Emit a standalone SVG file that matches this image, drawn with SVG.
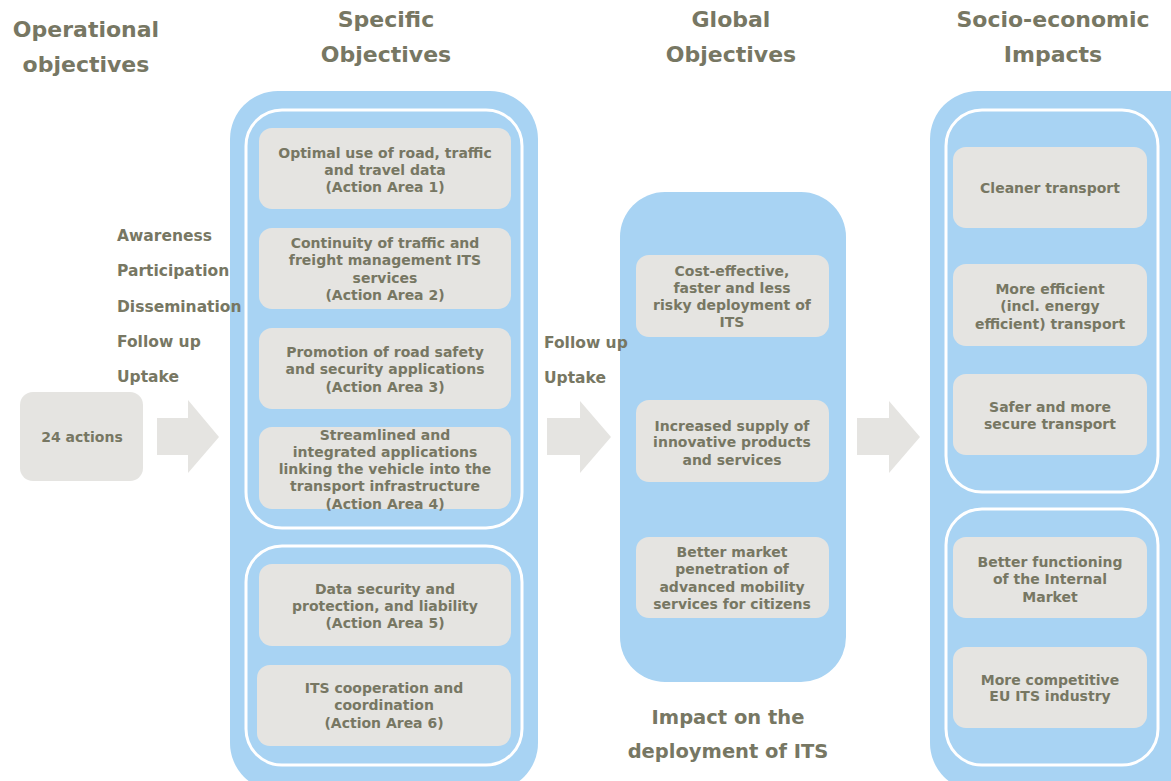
<svg xmlns="http://www.w3.org/2000/svg" width="1171" height="781" viewBox="0 0 1171 781">
<style>
text{font-family:"DejaVu Sans","Verdana",sans-serif;font-weight:bold;fill:#777763}
.h{font-size:22px;text-anchor:middle}
.b{font-size:14px;text-anchor:middle}
.l{font-size:15.5px}
.panel{fill:#a8d3f3}
.grp{fill:none;stroke:#ffffff;stroke-width:3}
.box{fill:#e5e4e1}
.arr{fill:#e5e4e1}
</style>
<rect width="1171" height="781" fill="#ffffff"/>
<!-- headings -->
<g id="headings">
<text class="h" x="86" y="37">Operational</text>
<text class="h" x="86" y="72">objectives</text>
<text class="h" x="386" y="27">Specific</text>
<text class="h" x="386" y="62">Objectives</text>
<text class="h" x="731" y="27">Global</text>
<text class="h" x="731" y="62">Objectives</text>
<text class="h" x="1053" y="27">Socio-economic</text>
<text class="h" x="1053" y="62">Impacts</text>
</g>
<!-- panels -->
<g id="specific-panel">
<rect class="panel" x="230" y="91" width="308" height="700" rx="48"/>
<rect class="grp" x="246" y="110" width="276" height="418" rx="36"/>
<rect class="grp" x="246" y="546" width="276" height="219" rx="36"/>
</g>
<g id="global-panel">
<rect class="panel" x="620" y="192" width="226" height="490" rx="45"/>
</g>
<g id="socio-panel">
<rect class="panel" x="930" y="91" width="290" height="700" rx="48"/>
<rect class="grp" x="946" y="110" width="212" height="382" rx="36"/>
<rect class="grp" x="946" y="509" width="212" height="256" rx="36"/>
</g>
<!-- connectors -->
<g id="connectors">
<polygon class="arr" points="157,418 188,418 188,400 219,437 188,473 188,455 157,455"/>
<polygon class="arr" points="547,418 580,418 580,401 611,437 580,473 580,455 547,455"/>
<polygon class="arr" points="857,418 889,418 889,401 920,437 889,473 889,455 857,455"/>
</g>
<!-- left side -->
<g id="actions">
<rect class="box" x="20" y="392" width="123" height="89" rx="13"/>
<text class="b" x="82" y="442">24 actions</text>
</g>
<g id="labels-left">
<text class="l" x="117" y="241">Awareness</text>
<text class="l" x="117" y="276">Participation</text>
<text class="l" x="117" y="312">Dissemination</text>
<text class="l" x="117" y="347">Follow up</text>
<text class="l" x="117" y="382">Uptake</text>
</g>
<g id="labels-mid">
<text class="l" x="544" y="348">Follow up</text>
<text class="l" x="544" y="383">Uptake</text>
</g>
<!-- specific boxes -->
<g id="so1">
<rect class="box" x="259" y="128" width="252" height="81" rx="13"/>
<text class="b" x="385" y="158">Optimal use of road, traffic</text>
<text class="b" x="385" y="175">and travel data</text>
<text class="b" x="385" y="192">(Action Area 1)</text>
</g>
<g id="so2">
<rect class="box" x="259" y="228" width="252" height="81" rx="13"/>
<text class="b" x="385" y="248">Continuity of traffic and</text>
<text class="b" x="385" y="265">freight management ITS</text>
<text class="b" x="385" y="283">services</text>
<text class="b" x="385" y="300">(Action Area 2)</text>
</g>
<g id="so3">
<rect class="box" x="259" y="328" width="252" height="81" rx="13"/>
<text class="b" x="385" y="357">Promotion of road safety</text>
<text class="b" x="385" y="374">and security applications</text>
<text class="b" x="385" y="392">(Action Area 3)</text>
</g>
<g id="so4">
<rect class="box" x="259" y="427" width="252" height="82" rx="13"/>
<text class="b" x="385" y="440">Streamlined and</text>
<text class="b" x="385" y="457">integrated applications</text>
<text class="b" x="385" y="474">linking the vehicle into the</text>
<text class="b" x="385" y="491">transport infrastructure</text>
<text class="b" x="385" y="509">(Action Area 4)</text>
</g>
<g id="so5">
<rect class="box" x="259" y="564" width="252" height="82" rx="13"/>
<text class="b" x="385" y="594">Data security and</text>
<text class="b" x="385" y="611">protection, and liability</text>
<text class="b" x="385" y="628">(Action Area 5)</text>
</g>
<g id="so6">
<rect class="box" x="257" y="665" width="254" height="81" rx="13"/>
<text class="b" x="384" y="693">ITS cooperation and</text>
<text class="b" x="384" y="710">coordination</text>
<text class="b" x="384" y="728">(Action Area 6)</text>
</g>
<!-- global boxes -->
<g id="go1">
<rect class="box" x="636" y="255" width="193" height="82" rx="13"/>
<text class="b" x="732" y="276">Cost-effective,</text>
<text class="b" x="732" y="293">faster and less</text>
<text class="b" x="732" y="310">risky deployment of</text>
<text class="b" x="732" y="327">ITS</text>
</g>
<g id="go2">
<rect class="box" x="636" y="400" width="193" height="82" rx="13"/>
<text class="b" x="732" y="431">Increased supply of</text>
<text class="b" x="732" y="447">innovative products</text>
<text class="b" x="732" y="465">and services</text>
</g>
<g id="go3">
<rect class="box" x="636" y="537" width="193" height="81" rx="13"/>
<text class="b" x="732" y="557">Better market</text>
<text class="b" x="732" y="574">penetration of</text>
<text class="b" x="732" y="592">advanced mobility</text>
<text class="b" x="732" y="609">services for citizens</text>
</g>
<g id="impact-label">
<text class="h" x="728" y="724" style="font-size:19.5px">Impact on the</text>
<text class="h" x="728" y="758" style="font-size:19.5px">deployment of ITS</text>
</g>
<!-- socio boxes -->
<g id="si1">
<rect class="box" x="953" y="147" width="194" height="81" rx="13"/>
<text class="b" x="1050" y="193">Cleaner transport</text>
</g>
<g id="si2">
<rect class="box" x="953" y="264" width="194" height="82" rx="13"/>
<text class="b" x="1050" y="294">More efficient</text>
<text class="b" x="1050" y="311">(incl. energy</text>
<text class="b" x="1050" y="329">efficient) transport</text>
</g>
<g id="si3">
<rect class="box" x="953" y="374" width="194" height="81" rx="13"/>
<text class="b" x="1050" y="412">Safer and more</text>
<text class="b" x="1050" y="429">secure transport</text>
</g>
<g id="si4">
<rect class="box" x="953" y="537" width="194" height="81" rx="13"/>
<text class="b" x="1050" y="567">Better functioning</text>
<text class="b" x="1050" y="584">of the Internal</text>
<text class="b" x="1050" y="602">Market</text>
</g>
<g id="si5">
<rect class="box" x="953" y="647" width="194" height="81" rx="13"/>
<text class="b" x="1050" y="685">More competitive</text>
<text class="b" x="1050" y="701">EU ITS industry</text>
</g>
</svg>
